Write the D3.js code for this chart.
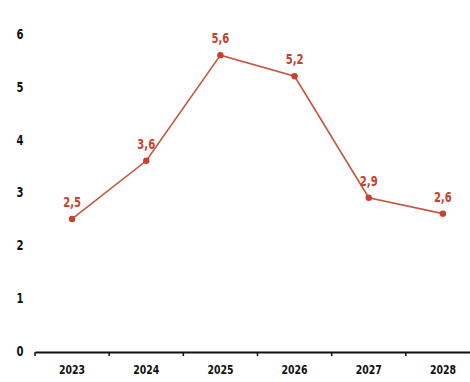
<!DOCTYPE html>
<html><head><meta charset="utf-8">
<script src="https://cdn.jsdelivr.net/npm/d3@7"></script>
<style>
html,body{margin:0;padding:0;background:#fff;}
svg{display:block;}
text{font-family:"DejaVu Sans Condensed","DejaVu Sans",sans-serif;font-stretch:condensed;font-weight:bold;}
</style></head>
<body>
<svg id="c" width="470" height="382"></svg>
<script>
const years = ["2023","2024","2025","2026","2027","2028"];
const values = [2.5, 3.6, 5.6, 5.2, 2.9, 2.6];
const valueLabels = ["2,5","3,6","5,6","5,2","2,9","2,6"];
const yTicks = [0,1,2,3,4,5,6];

const svg = d3.select("#c");
const x = d3.scaleBand().domain(years).range([35, 480]);
const y = d3.scaleLinear().domain([0, 6]).range([351, 34]);

// y labels (no axis line)
svg.append("g").selectAll("text").data(yTicks).join("text")
  .attr("x", 20).attr("y", d => y(d)).attr("dy", "0.35em")
  .attr("text-anchor", "middle").attr("font-size", 14).attr("fill", "#111")
  .attr("transform", d => `translate(20,0) scale(0.8,1) translate(-20,0)`)
  .text(d => d);

// x axis
const xa = svg.append("g").attr("transform", "translate(0,352)")
  .call(d3.axisBottom(x).tickSize(0).tickPadding(13));
xa.select(".domain").attr("stroke", "#111").attr("stroke-width", 1.8);
xa.selectAll(".tick text").attr("font-size", 13).attr("fill", "#111")
  .attr("transform", "scale(0.8,1)")
  .style("font-family", '"DejaVu Sans Condensed","DejaVu Sans",sans-serif').style("font-weight", "bold");
// boundary ticks
xa.selectAll(".bt").data(years).join("line").attr("class","bt")
  .attr("x1", d => x(d)).attr("x2", d => x(d)).attr("y1", 0).attr("y2", 4)
  .attr("stroke", "#111").attr("stroke-width", 1.5);

const cx = d => x(d) + x.bandwidth()/2;
const line = d3.line().x((d,i) => cx(years[i])).y(d => y(d));
svg.append("path").datum(values).attr("d", line)
  .attr("fill", "none").attr("stroke", "#c4573f").attr("stroke-width", 1.6);

svg.append("g").selectAll("circle").data(values).join("circle")
  .attr("cx", (d,i) => cx(years[i])).attr("cy", d => y(d)).attr("r", 3.2)
  .attr("fill", "#c9402f");

svg.append("g").selectAll("text").data(values).join("text")
  .attr("transform", (d,i) => `translate(${cx(years[i])},${y(d) - 12}) scale(0.8,1)`)
  .attr("text-anchor", "middle").attr("font-size", 14).attr("fill", "#c9402f")
  .text((d,i) => valueLabels[i]);
</script>
</body></html>
